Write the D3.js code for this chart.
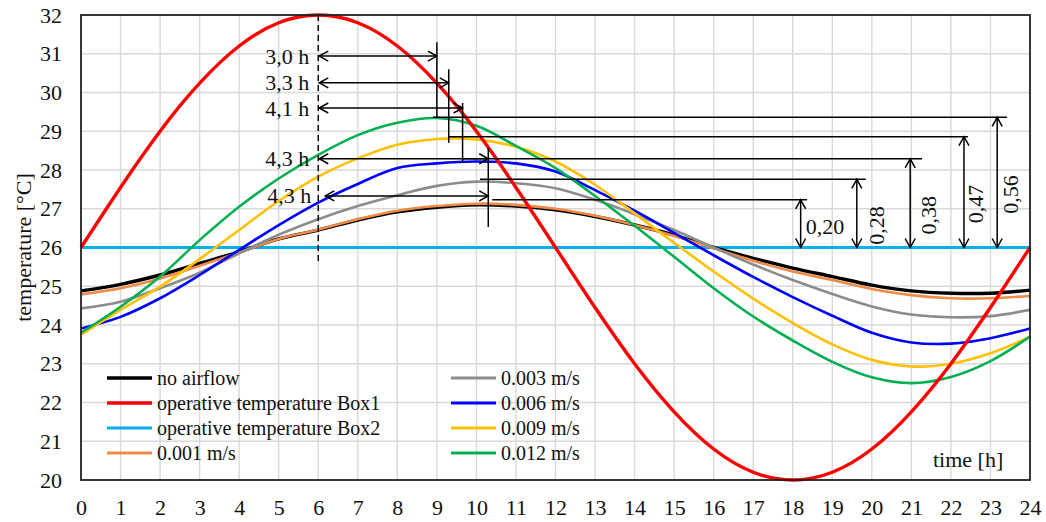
<!DOCTYPE html>
<html>
<head>
<meta charset="utf-8">
<script src="https://cdn.jsdelivr.net/npm/d3@7"></script>
<style>
  html, body { margin: 0; padding: 0; background: #fff; }
  svg { display: block; font-family: "Liberation Serif", "Times New Roman", serif; }
</style>
</head>
<body>
<svg id="chart" width="1046" height="522"></svg>
<script>
// Hours of the day (0..24) at which the temperatures are sampled
const hours = [0,1,2,3,4,5,6,7,8,9,10,11,12,13,14,15,16,17,18,19,20,21,22,23,24];

// Temperatures [°C] per series, one value per hour
const noAirflow = [24.88,25.05,25.29,25.59,25.89,26.22,26.45,26.71,26.92,27.04,27.10,27.07,26.97,26.80,26.58,26.32,26.00,25.72,25.47,25.25,25.03,24.88,24.82,24.82,24.90];
const box1 = [26.00,27.55,29.00,30.24,31.20,31.80,32.00,31.80,31.20,30.24,29.00,27.55,26.00,24.45,23.00,21.76,20.80,20.20,20.00,20.20,20.80,21.76,23.00,24.45,26.00];
const box2 = [26,26,26,26,26,26,26,26,26,26,26,26,26,26,26,26,26,26,26,26,26,26,26,26,26];
const v001 = [24.79,24.95,25.20,25.53,25.87,26.22,26.46,26.73,26.95,27.07,27.13,27.10,27.00,26.82,26.58,26.30,25.98,25.66,25.38,25.16,24.93,24.77,24.69,24.69,24.75];
const v003 = [24.43,24.60,24.95,25.35,25.85,26.33,26.73,27.07,27.35,27.59,27.70,27.66,27.53,27.23,26.86,26.45,26.00,25.56,25.16,24.80,24.48,24.27,24.20,24.23,24.39];
const v006 = [23.91,24.21,24.69,25.29,25.94,26.58,27.16,27.64,28.05,28.17,28.22,28.17,27.96,27.48,26.95,26.38,25.80,25.24,24.72,24.24,23.80,23.55,23.52,23.66,23.91];
const v009 = [23.75,24.39,24.99,25.70,26.45,27.20,27.83,28.30,28.65,28.80,28.79,28.60,28.22,27.62,26.88,26.12,25.38,24.68,24.05,23.50,23.10,22.93,23.00,23.27,23.70];
const v012 = [23.80,24.47,25.25,26.19,27.05,27.78,28.39,28.90,29.22,29.34,29.14,28.62,28.05,27.33,26.56,25.76,24.95,24.22,23.60,23.05,22.65,22.50,22.66,23.07,23.70];

const seriesNames = ["no airflow","operative temperature Box1","operative temperature Box2","0.001 m/s","0.003 m/s","0.006 m/s","0.009 m/s","0.012 m/s"];

// Axis ticks
const xTicks = [0,1,2,3,4,5,6,7,8,9,10,11,12,13,14,15,16,17,18,19,20,21,22,23,24];
const yTicks = [20,21,22,23,24,25,26,27,28,29,30,31,32];

// Phase-shift annotation: label, temperature level and end hour of each arrow
const phaseStart = 6;
const phaseLabels = ["3,0 h","3,3 h","4,1 h","4,3 h","4,3 h"];
const phaseLevels = [30.94, 30.25, 29.60, 28.29, 27.33];
const phaseEnds = [9.0, 9.3, 9.65, 10.3, 10.3];

// Short vertical marks at the peak times
const markHours = [9.0, 9.3, 9.65, 10.3];
const markTops = [31.30, 30.60, 29.73, 28.57];
const markBottoms = [29.34, 28.70, 28.18, 26.53];

// Peak levels with the hours where their reference lines begin and end
const peakLevels = [29.36, 28.86, 28.29, 27.76, 27.23];
const peakFrom = [8.9, 9.28, 9.65, 10.09, 10.4];
const peakTo = [23.42, 22.43, 21.27, 19.85, 18.36];

// Amplitude arrows measured up from 26 °C
const ampBase = 26;
const ampHours = [23.17, 22.33, 20.97, 19.62, 18.2];
const ampLabels = ["0,56","0,47","0,38","0,28","0,20"];

// Dashed line at the time of the Box1 maximum
const dashHour = 6;
const dashRange = [32, 25.55];

const svg = d3.select("#chart");
const margin = {left: 81, right: 16, top: 15, bottom: 42};
const W = 1046, H = 522;

const x = d3.scaleLinear().domain([0, 24]).range([margin.left, W - margin.right]);
const y = d3.scaleLinear().domain([20, 32]).range([H - margin.bottom, margin.top]);

// grid
const grid = svg.append("g");
grid.selectAll("line.v").data(xTicks.slice(1, -1)).join("line")
  .attr("x1", d => x(d)).attr("x2", d => x(d))
  .attr("y1", y(20)).attr("y2", y(32))
  .attr("stroke", "#d9d9d9").attr("stroke-width", 1.4);
grid.selectAll("line.h").data(yTicks.slice(1, -1)).join("line")
  .attr("x1", x(0)).attr("x2", x(24))
  .attr("y1", d => y(d)).attr("y2", d => y(d))
  .attr("stroke", "#d9d9d9").attr("stroke-width", 1.4);

// axes
const yAxis = svg.append("g").attr("transform", `translate(${x(0)},0)`)
  .call(d3.axisLeft(y).tickValues(yTicks).tickSize(0).tickPadding(19).tickFormat(d3.format("d")));
const xAxis = svg.append("g").attr("transform", `translate(0,${y(20)})`)
  .call(d3.axisBottom(x).tickValues(xTicks).tickSize(0).tickPadding(19).tickFormat(d3.format("d")));
[yAxis, xAxis].forEach(a => {
  a.attr("font-family", "Liberation Serif, Times New Roman, serif");
  a.select(".domain").remove();
  a.selectAll("text").attr("font-size", 22).attr("fill", "#111");
});

// axis titles
svg.append("text")
  .attr("transform", `translate(23,${(y(20) + y(32)) / 2}) rotate(-90)`)
  .attr("text-anchor", "middle").attr("dominant-baseline", "central")
  .attr("font-size", 22).attr("fill", "#111")
  .text("temperature [°C]");
svg.append("text")
  .attr("x", 933).attr("y", 467)
  .attr("font-size", 22).attr("fill", "#111")
  .text("time [h]");

// curves
const series = [
  {name: seriesNames[2], values: box2, color: "#00B0F0", width: 3.2},
  {name: seriesNames[0], values: noAirflow, color: "#000000", width: 3.4},
  {name: seriesNames[3], values: v001, color: "#F08A46", width: 2.6},
  {name: seriesNames[4], values: v003, color: "#8C8C8C", width: 2.6},
  {name: seriesNames[5], values: v006, color: "#0000FF", width: 2.6},
  {name: seriesNames[6], values: v009, color: "#FFC000", width: 2.6},
  {name: seriesNames[7], values: v012, color: "#00B050", width: 2.6},
  {name: seriesNames[1], values: box1, color: "#FF0000", width: 3.4}
];

const measuredLine = d3.line()
  .x((d, i) => x(hours[i]))
  .y(d => y(d))
  .curve(d3.curveCatmullRom.alpha(0.5));
const boxLine = d3.line()
  .x((d, i) => x(hours[i]))
  .y(d => y(d))
  .curve(d3.curveNatural);

svg.append("g").selectAll("path").data(series).join("path")
  .attr("d", s => (s.values === box1 ? boxLine : measuredLine)(s.values))
  .attr("fill", "none")
  .attr("stroke", s => s.color)
  .attr("stroke-width", s => s.width)
  .attr("stroke-linejoin", "round");

// legend
const legendOrder = [
  [seriesNames[0], seriesNames[1], seriesNames[2], seriesNames[3]],
  [seriesNames[4], seriesNames[5], seriesNames[6], seriesNames[7]]
];
const colX = [107, 451];
const legend = svg.append("g");
legendOrder.forEach((col, ci) => {
  col.forEach((name, ri) => {
    const s = series.find(d => d.name === name);
    const ly = 378 + ri * 25;
    legend.append("line")
      .attr("x1", colX[ci]).attr("x2", colX[ci] + 45)
      .attr("y1", ly).attr("y2", ly)
      .attr("stroke", s.color).attr("stroke-width", Math.max(s.width, 3));
    legend.append("text")
      .attr("x", colX[ci] + 50).attr("y", ly + 6.5)
      .attr("font-size", 20).attr("fill", "#111")
      .text(name);
  });
});

// annotations
const ann = svg.append("g").attr("stroke", "#000").attr("stroke-width", 1.5).attr("fill", "none");

function head(g, tx, ty, dir) {
  // open arrow head; dir = direction the tip points: "l","r","u","d"
  const L = 9, Wd = 5;
  let p;
  if (dir === "r") p = [[tx - L, ty - Wd], [tx, ty], [tx - L, ty + Wd]];
  if (dir === "l") p = [[tx + L, ty - Wd], [tx, ty], [tx + L, ty + Wd]];
  if (dir === "u") p = [[tx - Wd, ty + L], [tx, ty], [tx + Wd, ty + L]];
  if (dir === "d") p = [[tx - Wd, ty - L], [tx, ty], [tx + Wd, ty - L]];
  g.append("path").attr("d", d3.line()(p));
}

// dashed vertical at Box1 maximum
svg.append("line")
  .attr("x1", x(dashHour)).attr("x2", x(dashHour))
  .attr("y1", y(dashRange[0])).attr("y2", y(dashRange[1]))
  .attr("stroke", "#000").attr("stroke-width", 1.4)
  .attr("stroke-dasharray", "6,4");

// peak reference lines
peakLevels.forEach((lv, i) => {
  ann.append("line")
    .attr("x1", x(peakFrom[i])).attr("x2", x(peakTo[i]))
    .attr("y1", y(lv)).attr("y2", y(lv));
});

// vertical marks at the peak times
markHours.forEach((h, i) => {
  ann.append("line")
    .attr("x1", x(h)).attr("x2", x(h))
    .attr("y1", y(markTops[i])).attr("y2", y(markBottoms[i]));
});

// phase-shift arrows
phaseLevels.forEach((lv, i) => {
  const x0 = x(phaseStart) + (i === 4 ? 7 : 1);
  const x1 = x(phaseEnds[i]);
  const yy = y(lv);
  ann.append("line").attr("x1", x0).attr("x2", x1).attr("y1", yy).attr("y2", yy);
  head(ann, x0, yy, "l");
  head(ann, x1, yy, "r");
  svg.append("text")
    .attr("x", x(phaseStart) - (i === 4 ? 7 : 9)).attr("y", yy)
    .attr("text-anchor", "end").attr("dominant-baseline", "central")
    .attr("font-size", 22).attr("fill", "#111")
    .text(phaseLabels[i]);
});

// amplitude arrows
const ampOffsets = [13, 12, 18, 20];
ampHours.forEach((h, i) => {
  const xx = x(h);
  const yTop = y(peakLevels[i]);
  const yBot = y(ampBase);
  ann.append("line").attr("x1", xx).attr("x2", xx).attr("y1", yTop).attr("y2", yBot);
  head(ann, xx, yTop, "u");
  head(ann, xx, yBot, "d");
  if (i < 4) {
    const cy = (yTop + yBot) / 2 + 12;
    svg.append("text")
      .attr("transform", `translate(${xx + ampOffsets[i]},${cy}) rotate(-90)`)
      .attr("text-anchor", "middle").attr("dominant-baseline", "central")
      .attr("font-size", 22).attr("fill", "#111")
      .text(ampLabels[i]);
  } else {
    svg.append("text")
      .attr("x", xx + 5).attr("y", yBot - 14)
      .attr("font-size", 22).attr("fill", "#111")
      .text(ampLabels[i]);
  }
});

// plot frame
svg.append("rect")
  .attr("x", x(0)).attr("y", y(32))
  .attr("width", x(24) - x(0)).attr("height", y(20) - y(32))
  .attr("fill", "none").attr("stroke", "#222").attr("stroke-width", 1.8);
</script>
</body>
</html>
